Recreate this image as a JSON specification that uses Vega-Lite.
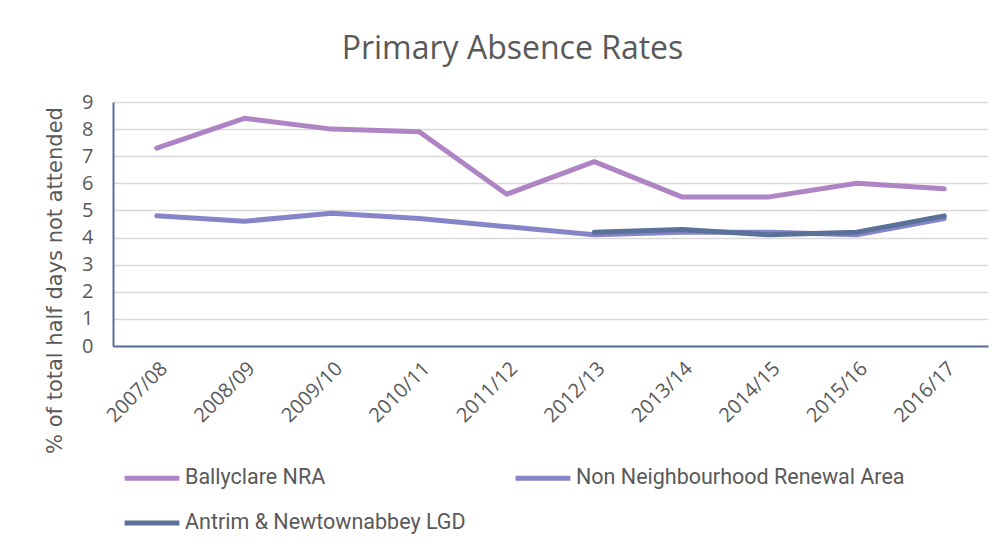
{
  "$schema": "https://vega.github.io/schema/vega-lite/v6.json",
  "width": 875,
  "height": 244,
  "autosize": "none",
  "padding": {"left": 113, "top": 102, "right": 13, "bottom": 206},
  "background": "white",
  "title": {
    "text": "Primary Absence Rates",
    "font": "Open Sans",
    "fontSize": 32,
    "fontWeight": "normal",
    "color": "#595959",
    "anchor": "middle",
    "dx": -38,
    "offset": 26
  },
  "data": {
    "values": [
      {"year": "2007/08", "series": "Ballyclare NRA", "value": 7.3},
      {"year": "2008/09", "series": "Ballyclare NRA", "value": 8.4},
      {"year": "2009/10", "series": "Ballyclare NRA", "value": 8.0},
      {"year": "2010/11", "series": "Ballyclare NRA", "value": 7.9},
      {"year": "2011/12", "series": "Ballyclare NRA", "value": 5.6},
      {"year": "2012/13", "series": "Ballyclare NRA", "value": 6.8},
      {"year": "2013/14", "series": "Ballyclare NRA", "value": 5.5},
      {"year": "2014/15", "series": "Ballyclare NRA", "value": 5.5},
      {"year": "2015/16", "series": "Ballyclare NRA", "value": 6.0},
      {"year": "2016/17", "series": "Ballyclare NRA", "value": 5.8},
      {"year": "2007/08", "series": "Non Neighbourhood Renewal Area", "value": 4.8},
      {"year": "2008/09", "series": "Non Neighbourhood Renewal Area", "value": 4.6},
      {"year": "2009/10", "series": "Non Neighbourhood Renewal Area", "value": 4.9},
      {"year": "2010/11", "series": "Non Neighbourhood Renewal Area", "value": 4.7},
      {"year": "2011/12", "series": "Non Neighbourhood Renewal Area", "value": 4.4},
      {"year": "2012/13", "series": "Non Neighbourhood Renewal Area", "value": 4.1},
      {"year": "2013/14", "series": "Non Neighbourhood Renewal Area", "value": 4.2},
      {"year": "2014/15", "series": "Non Neighbourhood Renewal Area", "value": 4.2},
      {"year": "2015/16", "series": "Non Neighbourhood Renewal Area", "value": 4.1},
      {"year": "2016/17", "series": "Non Neighbourhood Renewal Area", "value": 4.7},
      {"year": "2012/13", "series": "Antrim & Newtownabbey LGD", "value": 4.2},
      {"year": "2013/14", "series": "Antrim & Newtownabbey LGD", "value": 4.3},
      {"year": "2014/15", "series": "Antrim & Newtownabbey LGD", "value": 4.1},
      {"year": "2015/16", "series": "Antrim & Newtownabbey LGD", "value": 4.2},
      {"year": "2016/17", "series": "Antrim & Newtownabbey LGD", "value": 4.8}
    ]
  },
  "mark": {"type": "line", "strokeWidth": 5, "strokeCap": "round", "strokeJoin": "round"},
  "encoding": {
    "x": {
      "field": "year",
      "type": "nominal",
      "scale": {"type": "point", "padding": 0.5},
      "axis": {
        "title": null,
        "labelAngle": -45,
        "labelFont": "Open Sans",
        "labelFontSize": 20,
        "labelColor": "#595959",
        "labelPadding": 12,
        "ticks": false,
        "grid": false,
        "domainColor": "#5a6f96",
        "domainWidth": 2
      }
    },
    "y": {
      "field": "value",
      "type": "quantitative",
      "scale": {"domain": [0, 9], "nice": false},
      "axis": {
        "title": "% of total half days not attended",
        "titleFont": "DejaVu Sans",
        "titleFontSize": 21,
        "titleFontWeight": "normal",
        "titleColor": "#595959",
        "titleX": -58,
        "titleY": 178,
        "titleAngle": -90,
        "titleAlign": "center",
        "titleBaseline": "middle",
        "values": [0, 1, 2, 3, 4, 5, 6, 7, 8, 9],
        "labelOverlap": false,
        "labelFont": "Open Sans",
        "labelFontSize": 20,
        "labelColor": "#595959",
        "labelPadding": 20,
        "ticks": false,
        "gridColor": "#d9d9d9",
        "gridWidth": 1.5,
        "domainColor": "#5a6f96",
        "domainWidth": 2
      }
    },
    "color": {
      "field": "series",
      "type": "nominal",
      "scale": {
        "domain": ["Ballyclare NRA", "Antrim & Newtownabbey LGD", "Non Neighbourhood Renewal Area"],
        "range": ["#af84c5", "#5a7199", "#8785c9"]
      },
      "legend": {
        "title": null,
        "orient": "none",
        "legendX": 9,
        "legendY": 346,
        "columns": 2,
        "columnPadding": 39,
        "rowPadding": 4,
        "symbolType": "stroke",
        "symbolSize": 3000,
        "symbolStrokeWidth": 5,
        "labelFont": "Roboto",
        "labelFontSize": 21.5,
        "labelColor": "#595959",
        "labelOffset": 3,
        "labelLimit": 500
      }
    }
  },
  "config": {"view": {"stroke": null}}
}
